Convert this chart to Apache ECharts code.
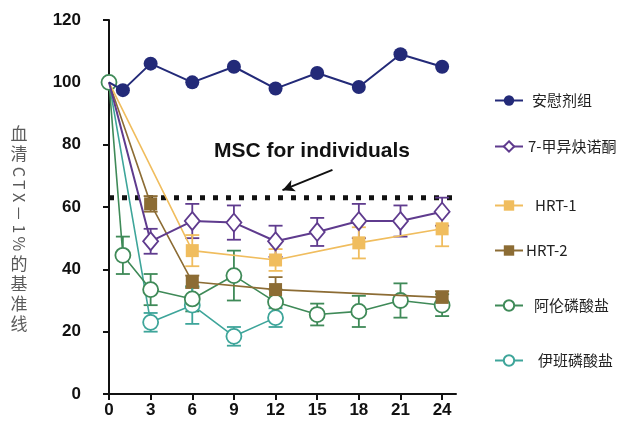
<!DOCTYPE html>
<html><head><meta charset="utf-8">
<script src="https://cdn.jsdelivr.net/npm/echarts@6/dist/echarts.min.js"></script>
<style>html,body{margin:0;padding:0;background:#fff}#c{width:636px;height:424px}</style>
</head><body><div id="c"></div>
<script>
// ---- data ----
const xTicks = [0,3,6,9,12,15,18,21,24];
const seriesNames = ['安慰剂组','7-甲异炔诺酮','HRT-1','HRT-2','阿伦磷酸盐','伊班磷酸盐'];

const placeboX = [0,1,3,6,9,12,15,18,21,24];
const placeboY = [100,97.5,106,100,105,98,103,98.5,109,105];

const tibX = [0,3,6,9,12,15,18,21,24];
const tibY = [100,49,55.5,55,49,52,55.5,55.5,58.5];
const tibErr = [0,4,5.5,5.5,5,4.5,5.5,5,4.5];

const hrt1X = [0,6,12,18,24];
const hrt1Y = [100,46,43,48.5,53];
const hrt1Err = [0,5,3.5,5,5.6];

const hrt2X = [0,3,6,12,24];
const hrt2Y = [100,61,36,33.5,31];
const hrt2Err = [0,2.5,2,4,2];

const alenX = [0,1,3,6,9,12,15,18,21,24];
const alenY = [100,44.5,33.5,30.5,38,29.5,25.5,26.5,30,28.5];
const alenErr = [0,6,5,4,8,4,3.5,5,5.5,3.5];

const ibanX = [0,3,6,9,12];
const ibanY = [100,23,28.5,18.5,24.5];
const ibanErr = [0,3,6,3,3];

const mscValue = 63;
const mscLabel = 'MSC for individuals';
const arrowFrom = [16.1, 71.9];
const arrowTo = [12.5, 65.4];

const yTitleParts = [['血',0],['清',0],['C\u2009T\u2009X\u2009－\u20091\u2009%',1],['的',0],['基',0],['准',0],['线',0]];

// ---- styles ----
const colors = ['#232a78','#5f3b8e','#f0bd5e','#8c6c34','#3f8a58','#3ea59a'];
const symbols = ['circle','diamond','rect','rect','circle','circle'];
const symSizes = [14,[15,18],13,13,15,15];
const filled = [true,false,true,true,false,false];

const xs = [placeboX,tibX,hrt1X,hrt2X,alenX,ibanX];
const ys = [placeboY,tibY,hrt1Y,hrt2Y,alenY,ibanY];
const errs = [null,tibErr,hrt1Err,hrt2Err,alenErr,ibanErr];

const series = [];
seriesNames.forEach((name,i)=>{
  const data = xs[i].map((x,k)=>{
    const d = {value:[x, ys[i][k]]};
    if (k===0 && i!==4) d.symbol = 'none';
    return d;
  });
  series.push({
    name, type:'line', data, z: 10 - i + (i===0?5:0),
    symbol: symbols[i], symbolSize: symSizes[i], showAllSymbol:true,
    lineStyle:{color:colors[i], width: (i===0||i===1)?2:1.6},
    itemStyle:{color: filled[i]?colors[i]:'#fff', borderColor: colors[i], borderWidth: filled[i]?0:1.8},
    emphasis:{disabled:true}, animation:false
  });
  if (errs[i]) {
    const ed = xs[i].map((x,k)=>[x, ys[i][k]-errs[i][k], ys[i][k]+errs[i][k]]).filter((d,k)=>errs[i][k]>0);
    series.push({
      name: name+'_err', type:'custom', z: 3,
      data: ed, encode:{x:0,y:[1,2]}, animation:false, silent:true,
      renderItem(params, api){
        const lo = api.coord([api.value(0), api.value(1)]);
        const hi = api.coord([api.value(0), api.value(2)]);
        const w = 7;
        const st = {stroke: colors[i], lineWidth: 1.8, fill:null};
        return {type:'group', children:[
          {type:'line', shape:{x1:lo[0],y1:lo[1],x2:hi[0],y2:hi[1]}, style:st},
          {type:'line', shape:{x1:lo[0]-w,y1:lo[1],x2:lo[0]+w,y2:lo[1]}, style:st},
          {type:'line', shape:{x1:hi[0]-w,y1:hi[1],x2:hi[0]+w,y2:hi[1]}, style:st}
        ]};
      }
    });
  }
});

series.push({
  name:'MSC', type:'line', data:[[0,mscValue],[25,mscValue]], symbol:'none', z:2,
  lineStyle:{color:'#111', width:5, type:[5,8]}, silent:true, animation:false,
  markLine:{
    silent:true, animation:false, symbol:['none','arrow'], symbolSize:[9,12],
    lineStyle:{color:'#111', width:2, type:'solid'}, label:{show:false},
    data:[[{coord:arrowFrom},{coord:arrowTo}]]
  }
});

const legendLeft = 489;
const legendCenters = [97,143,202,247,302,357];
const legendPad = [4,0,7,-2,6,10];
const legends = seriesNames.map((n,i)=>({
  data:[n], left: legendLeft, top: legendCenters[i]-9, orient:'vertical',
  itemWidth:28, itemHeight:13, selectedMode:false,
  textStyle:{fontFamily:'"Noto Sans CJK SC", sans-serif', fontSize:15, color:'#222', padding:[ i===0?6:0,0,0,legendPad[i]]}
}));

// y title graphic
const titleGraphics = [];
let yPos = 124;
yTitleParts.forEach(([txt,rot])=>{
  const adv = rot ? 90 : 20;
  const cy = yPos + adv/2;
  titleGraphics.push({
    type:'group', x: 19, y: cy, rotation: rot ? -Math.PI/2 : 0, silent:true,
    children:[{
      type:'text', x:0, y:0,
      style:{text: txt, fill:'#5a5a5a', font: (rot?'16px ':'17px ') + '"Noto Sans CJK SC", sans-serif', align:'center', verticalAlign:'middle'},
      silent:true
    }]
  });
  yPos += adv;
});
titleGraphics.push({
  type:'text', left: 214, top: 141,
  style:{text: mscLabel, fill:'#111', font:'bold 21px "Liberation Sans", Arial, sans-serif'}, silent:true
});

const chart = echarts.init(document.getElementById('c'), null, {renderer:'canvas'});
chart.setOption({
  backgroundColor:'#fff',
  animation:false,
  grid:{left:109, right:180, top:20, bottom:30},
  legend: legends,
  xAxis:{
    type:'value', min:0, max:25, interval:3,
    axisLine:{show:true, lineStyle:{color:'#111', width:2}},
    axisTick:{show:true, length:6, lineStyle:{color:'#111', width:2}, customValues:xTicks},
    axisLabel:{color:'#111', fontSize:17, fontWeight:'bold', fontFamily:'"Liberation Sans", Arial, sans-serif', margin:8, customValues:xTicks},
    splitLine:{show:false}
  },
  yAxis:{
    type:'value', min:0, max:120, interval:20,
    axisLine:{show:true, lineStyle:{color:'#111', width:2}},
    axisTick:{show:true, length:6, lineStyle:{color:'#111', width:2}},
    axisLabel:{color:'#111', fontSize:17, fontWeight:'bold', fontFamily:'"Liberation Sans", Arial, sans-serif', margin:28},
    splitLine:{show:false}
  },
  graphic: titleGraphics,
  series
});
</script></body></html>
